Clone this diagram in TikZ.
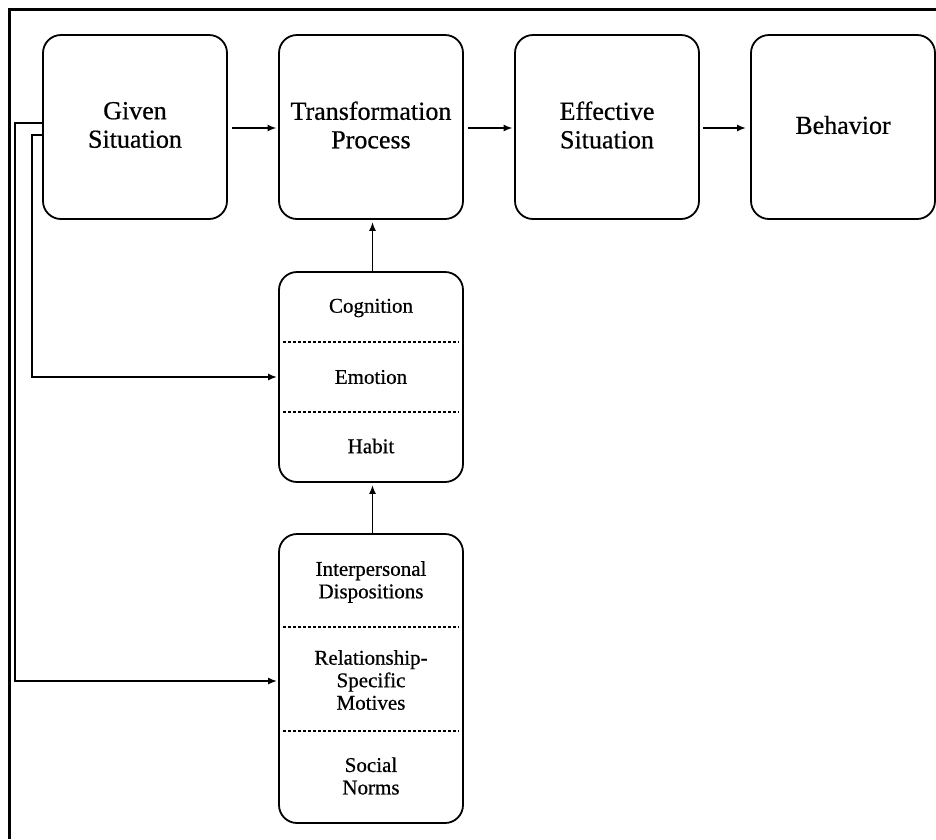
\documentclass[tikz,border=0pt]{standalone}
\usepackage{fontspec}
\setmainfont{Liberation Serif}[FakeBold=0.6]
\usetikzlibrary{arrows.meta,calc}
\begin{document}
\begin{tikzpicture}[x=1pt,y=-1pt,
  stagebox/.style={draw,line width=1.8pt,rounded corners=18pt,minimum width=184pt,
    minimum height=184pt,inner sep=0pt},
  stagetext/.style={align=center,font=\fontsize{26}{28.5}\selectfont,inner sep=0pt},
  stackbox/.style={draw,line width=1.8pt,rounded corners=18pt,minimum width=184pt,inner sep=0pt},
  itemtext/.style={align=center,font=\fontsize{21}{22.5}\selectfont,inner sep=0pt},
  divider/.style={line width=1.4pt,dash pattern=on 3pt off 2pt},
  arr/.style={line width=1.7pt,-{Latex[length=9pt,width=7pt]}},
  frameline/.style={line width=3.5pt}]
\useasboundingbox (0,0) rectangle (936,839);

% partial outer frame
\coordinate (fbl) at (9.5,839);
\coordinate (ftl) at (9.5,9.5);
\coordinate (ftr) at (936,9.5);
\draw[frameline] (fbl) -- (ftl) -- (ftr);

% top row of stages
\node[stagebox] (given) at (135,127) {};
\node[stagetext] (giventxt) at (135,125) {Given\\Situation};
\node[stagebox] (trans) at (371,127) {};
\node[stagetext] (transtxt) at (371,125) {Transformation\\Process};
\node[stagebox] (eff) at (607,127) {};
\node[stagetext] (efftxt) at (607,125) {Effective\\Situation};
\node[stagebox] (beh) at (843,127) {};
\node[stagetext] (behtxt) at (843,125) {Behavior};

% cognition / emotion / habit stack
\node[stackbox,minimum height=210pt] (cog) at (371,377) {};
\draw[divider] ([xshift=5pt]cog.west |- 0,342) -- ([xshift=-5pt]cog.east |- 0,342);
\draw[divider] ([xshift=5pt]cog.west |- 0,412) -- ([xshift=-5pt]cog.east |- 0,412);
\node[itemtext] (cogn) at (371,308) {Cognition};
\node[itemtext] (emot) at (371,377) {Emotion};
\node[itemtext] (habit) at (371,446) {Habit};

% dispositions / motives / norms stack
\node[stackbox,minimum height=289pt] (mot) at (371,678.5) {};
\draw[divider] ([xshift=5pt]mot.west |- 0,627) -- ([xshift=-5pt]mot.east |- 0,627);
\draw[divider] ([xshift=5pt]mot.west |- 0,731) -- ([xshift=-5pt]mot.east |- 0,731);
\node[itemtext] (disp) at (371,582) {Interpersonal\\Dispositions};
\node[itemtext] (rsm) at (371,680) {Relationship-\\Specific\\Motives};
\node[itemtext] (norms) at (371,776) {Social\\Norms};

% main flow
\draw[arr,shorten <=4pt,shorten >=1.5pt] ([yshift=-1pt]given.east) -- ([yshift=-1pt]trans.west);
\draw[arr,shorten <=4pt,shorten >=1.5pt] ([yshift=-1pt]trans.east) -- ([yshift=-1pt]eff.west);
\draw[arr,shorten <=3pt,shorten >=4pt] ([yshift=-1pt]eff.east) -- ([yshift=-1pt]beh.west);

% upward influences
\draw[arr,shorten >=2pt] ([xshift=1.5pt]cog.north) -- ([xshift=1.5pt]trans.south);
\draw[arr,shorten >=2pt] ([xshift=1.5pt]mot.north) -- ([xshift=1.5pt]cog.south);

% feedback lines from the given situation
\draw[arr,rounded corners=0pt,shorten >=1pt] ([yshift=4pt]given.west) -- ++(-27,0) |- ([yshift=-2.5pt]mot.west);
\draw[arr,rounded corners=0pt,shorten >=1pt] ([yshift=-8pt]given.west) -- ++(-10,0) |- (cog.west);
\end{tikzpicture}
\end{document}
